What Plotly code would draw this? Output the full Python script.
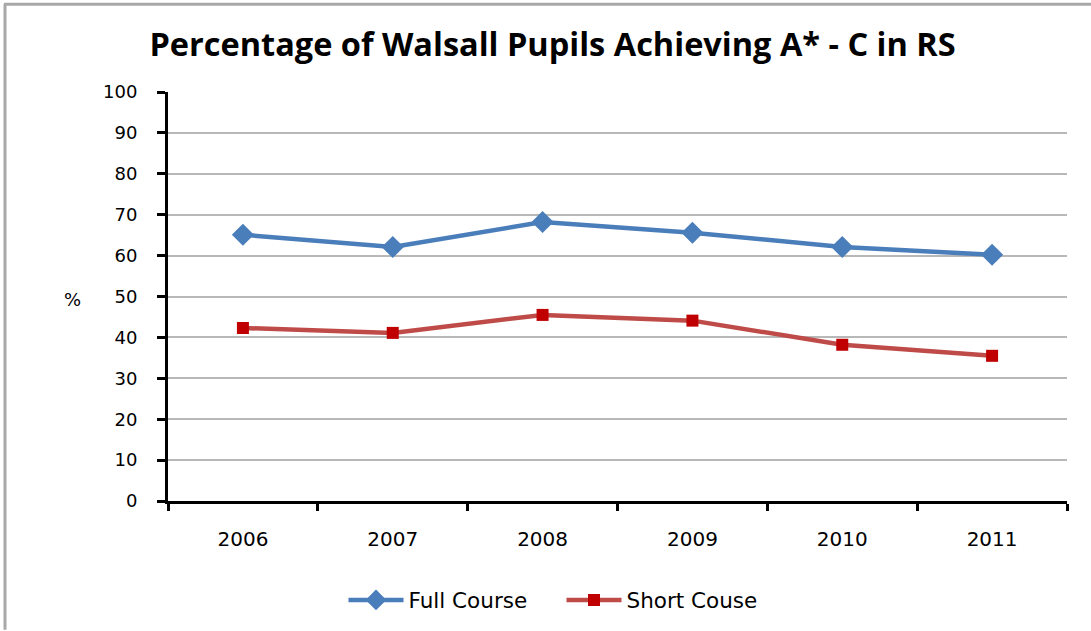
import plotly.graph_objects as go

years = ["2006", "2007", "2008", "2009", "2010", "2011"]
full_course = [65.1, 62.1, 68.2, 65.6, 62.1, 60.2]
short_course = [42.3, 41.1, 45.5, 44.1, 38.2, 35.5]
y_ticks = [0, 10, 20, 30, 40, 50, 60, 70, 80, 90, 100]

W, H = 1091, 631
L, R, T, B = 168, 24, 92, 129
pw, ph = W - L - R, H - T - B

fig = go.Figure()
fig.add_trace(go.Scatter(
    x=years, y=full_course, name="Full Course", mode="lines+markers",
    line=dict(color="#4A7EBB", width=4.5),
    marker=dict(symbol="diamond", size=17, color="#4A7EBB"),
))
fig.add_trace(go.Scatter(
    x=years, y=short_course, name="Short Couse", mode="lines+markers",
    line=dict(color="#BE4B48", width=4.5),
    marker=dict(symbol="square", size=12, color="#C00000"),
))

fig.update_layout(
    width=W, height=H,
    margin=dict(l=L, r=R, t=T, b=B),
    paper_bgcolor="white", plot_bgcolor="white",
    title=dict(text="Percentage of Walsall Pupils Achieving A* - C in RS",
               x=(552.5 - L) / pw, xanchor="center",
               xref="paper", y=1 - 45 / H, yanchor="middle",
               font=dict(family="Open Sans", size=32.5, color="black", weight="bold")),
    xaxis=dict(
        type="category", tickson="boundaries", ticks="outside", ticklen=7,
        tickwidth=3, tickcolor="black", showline=True, linecolor="black",
        linewidth=3, showgrid=False, range=[-0.5, 5.5],
        tickfont=dict(family="DejaVu Sans", size=20, color="black"),
        ticklabelstandoff=18,
    ),
    yaxis=dict(
        range=[0, 100], tickvals=y_ticks, ticks="outside", ticklen=8,
        tickwidth=3, tickcolor="black", showline=True, linecolor="black",
        linewidth=3, showgrid=True, gridcolor="#B8B8B8", gridwidth=2,
        zeroline=False, ticklabelstandoff=16,
        tickfont=dict(family="DejaVu Sans", size=18, color="black"),
    ),
    legend=dict(orientation="h", x=(561.5 - L) / pw, xanchor="center",
                y=-(600 - 502) / ph, yanchor="middle",
                itemwidth=55, entrywidth=148, entrywidthmode="pixels",
                font=dict(family="DejaVu Sans", size=21.5, color="black")),
    showlegend=True,
)

fig.add_annotation(text="%", xref="paper", yref="paper",
                   x=(62 - L) / pw, y=(502 - 300) / ph, showarrow=False,
                   font=dict(family="DejaVu Sans", size=18, color="black"))

# chart border (top and left gray lines)
fig.add_shape(type="line", xref="paper", yref="paper",
              x0=(4 - L) / pw, x1=(W - L) / pw, y0=(502 - 4) / ph, y1=(502 - 4) / ph,
              line=dict(color="#A8A8A8", width=3))
fig.add_shape(type="line", xref="paper", yref="paper",
              x0=(5 - L) / pw, x1=(5 - L) / pw, y0=(502 - 4) / ph, y1=(502 - H) / ph,
              line=dict(color="#A8A8A8", width=3))

fig.write_html("out.html", config={"displayModeBar": False},
               post_script="document.body.style.margin='0';document.body.style.overflow='hidden';")
